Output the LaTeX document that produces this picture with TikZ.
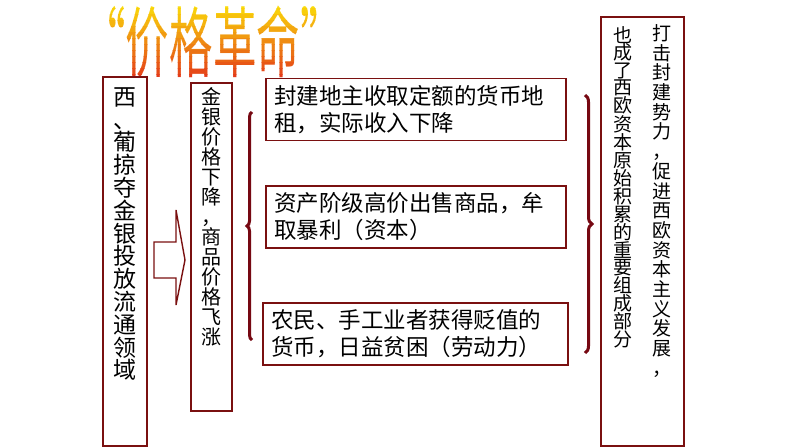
\documentclass[tikz,border=0pt]{standalone}
\usepackage{fontspec}
\setmainfont{Noto Sans CJK SC}
\usetikzlibrary{positioning,decorations.pathreplacing}
\definecolor{boxred}{RGB}{122,16,16}
\definecolor{bracered}{RGB}{118,8,18}
\definecolor{titletop}{RGB}{250,220,10}
\definecolor{titlebot}{RGB}{228,60,25}
\tikzset{
  framebox/.style={draw=boxred, line width=1.4pt, fill=white, inner sep=0pt},
  vtext/.style={align=center, inner sep=0pt},
  titletext/.style={font=\fontsize{77}{77}\selectfont, xscale=0.565, inner sep=0pt},
  itembox/.style={framebox, minimum height=62pt, text width=284pt, inner xsep=8pt,
    align=left, font=\fontsize{22.5}{27}\selectfont},
  grp/.style={draw=bracered, line width=3pt, decorate, decoration={brace, amplitude=#1}},
}
\begin{document}
\begin{tikzpicture}[x=1pt,y=-1pt]
  \useasboundingbox (0,0) rectangle (794,447);
  \fill[white] (0,0) rectangle (794,447);
  % title, yellow to red in bands
  \foreach \i in {0,...,12}{
    \pgfmathtruncatemacro\pct{\i*100/12}
    \begin{scope}
      \clip (90,{2+6*\i}) rectangle (340,{8.5+6*\i});
      \node[titletext, text=titlebot!\pct!titletop] (title\i) at (213,42) {“价格革命”};
    \end{scope}
  }
  % cause
  \node[framebox, minimum width=44pt, minimum height=369pt] (west) at (125,261.5) {};
  \node[vtext, font=\fontsize{23}{22.8}\selectfont, below=11pt of west.north] (westtxt)
    {西\\、\\葡\\掠\\夺\\金\\银\\投\\放\\流\\通\\领\\域};
  \draw[boxred, line width=1.4pt, fill=white] (154,242) -- (176,242) -- (176,210) -- (185,260)
    -- (176,305) -- (176,278) -- (154,278) -- cycle;
  \node[framebox, minimum width=41pt, minimum height=328pt] (down) at (211.5,247) {};
  \node[vtext, font=\fontsize{20}{20}\selectfont, below=5pt of down.north] (downtxt)
    {金\\银\\价\\格\\下\\降\\，\\商\\品\\价\\格\\飞\\涨};
  % effects
  \draw[grp=5pt] (252,340) -- (252,112);
  \node[itembox] (rent) at (416,109.5) {封建地主收取定额的货币地\\租，实际收入下降};
  \node[itembox] (profit) at (416,217) {资产阶级高价出售商品，牟\\取暴利（资本）};
  \node[itembox, text width=289pt] (labour) at (415.5,334) {农民、手工业者获得贬值的\\货币，日益贫困（劳动力）};
  \draw[grp=7pt] (585,95) -- (585,353);
  % result
  \node[framebox, minimum width=83pt, minimum height=429pt] (result) at (642.5,231.5) {};
  \node[vtext, font=\fontsize{19}{19.7}\selectfont, below=8pt of result.north, xshift=19.5pt] (resA)
    {打\\击\\封\\建\\势\\力\\，\\促\\进\\西\\欧\\资\\本\\主\\义\\发\\展\\，};
  \node[vtext, font=\fontsize{19}{17.3}\selectfont, below=10pt of result.north, xshift=-19.5pt] (resB)
    {也\\成\\了\\西\\欧\\资\\本\\原\\始\\积\\累\\的\\重\\要\\组\\成\\部\\分};
\end{tikzpicture}
\end{document}
